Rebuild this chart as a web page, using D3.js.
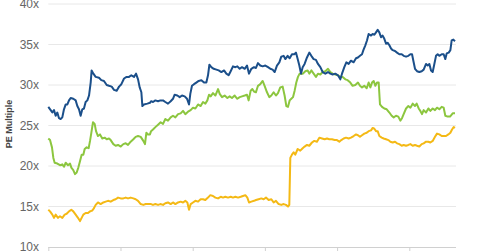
<!DOCTYPE html>
<html><head><meta charset="utf-8">
<script src="https://cdn.jsdelivr.net/npm/d3@7"></script>
<style>
html,body{margin:0;padding:0;background:#fff;}
svg{display:block;font-family:"Liberation Sans",Arial,sans-serif;}
</style></head>
<body><svg id="chart" width="480" height="251"></svg>
<script>
// x values: years since the start of the series
const yTicks = [10, 15, 20, 25, 30, 35, 40];
const xTicks = [0, 1, 2, 3, 4, 5];
const yLabel = "PE Multiple";

const blueSeries = [[0.000,27.3],[0.033,26.9],[0.056,26.6],[0.079,26.9],[0.102,26.2],[0.125,26.6],[0.148,25.9],[0.171,25.8],[0.194,26.0],[0.217,27.0],[0.241,27.6],[0.264,27.6],[0.287,28.1],[0.310,28.4],[0.346,28.3],[0.379,28.1],[0.402,27.4],[0.425,27.0],[0.448,26.2],[0.471,27.0],[0.494,27.1],[0.517,27.9],[0.541,28.1],[0.564,28.7],[0.587,30.3],[0.600,31.8],[0.624,31.4],[0.656,31.0],[0.702,30.9],[0.734,30.6],[0.771,30.5],[0.809,30.0],[0.841,29.9],[0.878,29.8],[0.910,29.4],[0.947,29.3],[0.980,29.8],[1.012,30.1],[1.049,30.8],[1.085,31.0],[1.118,31.0],[1.150,31.2],[1.187,31.0],[1.215,31.4],[1.243,30.7],[1.266,29.7],[1.289,29.1],[1.303,27.4],[1.325,27.6],[1.372,27.7],[1.408,27.8],
[1.423,28.0],[1.450,27.9],[1.483,28.1],[1.520,28.0],[1.552,28.1],[1.589,28.1],[1.621,27.9],[1.658,27.7],[1.695,28.0],[1.727,28.3],[1.750,28.8],[1.787,28.7],[1.820,28.5],[1.852,28.7],[1.889,28.6],[1.921,28.3],[1.949,27.6],[1.967,28.9],[1.990,29.9],[2.018,30.1],[2.050,30.3],[2.083,30.5],[2.120,30.6],[2.157,30.3],[2.189,30.3],[2.212,31.2],[2.231,32.5],[2.258,32.2],[2.291,32.0],[2.328,31.9],[2.360,31.8],[2.397,31.6],[2.434,31.8],[2.466,31.4],[2.498,31.2],[2.526,31.7],[2.558,32.3],[2.591,32.2],[2.618,32.3],[2.651,32.0],[2.683,32.2],[2.720,32.0],[2.752,32.4],[2.780,31.4],[2.812,32.0],[2.849,32.2],
[2.876,32.1],[2.904,32.7],[2.936,32.4],[2.969,32.3],[3.006,32.4],[3.043,32.2],[3.075,32.0],[3.107,31.9],[3.135,31.6],[3.167,32.4],[3.200,32.8],[3.227,33.5],[3.260,33.6],[3.283,33.2],[3.315,33.6],[3.343,33.3],[3.375,33.8],[3.407,33.8],[3.430,34.0],[3.454,33.2],[3.477,32.4],[3.500,31.4],[3.523,32.2],[3.550,32.6],[3.583,33.4],[3.615,34.0],[3.643,33.6],[3.675,33.2],[3.707,33.1],[3.735,32.6],[3.768,32.2],[3.800,31.6],[3.837,31.4],[3.874,31.6],[3.906,31.4],[3.938,31.3],[3.975,31.4],[4.012,31.2],[4.045,30.7],[4.068,31.4],[4.100,32.2],[4.128,32.8],[4.160,32.6],[4.192,33.0],[4.229,32.8],[4.262,33.3],[4.289,33.4],
[4.317,33.6],[4.345,33.8],[4.364,34.3],[4.391,34.9],[4.414,35.5],[4.437,36.3],[4.470,36.1],[4.493,36.3],[4.516,36.2],[4.539,36.5],[4.562,36.8],[4.585,36.5],[4.608,35.9],[4.631,36.1],[4.654,35.7],[4.678,35.1],[4.701,35.2],[4.724,34.9],[4.747,34.5],[4.770,34.3],[4.802,34.2],[4.830,34.0],[4.862,33.8],[4.895,33.8],[4.922,33.6],[4.955,33.5],[4.987,33.6],[5.015,33.8],[5.038,33.8],[5.056,33.0],[5.079,32.0],[5.107,31.7],[5.139,31.6],[5.172,31.7],[5.199,31.9],[5.232,32.6],[5.255,32.4],[5.278,32.6],[5.301,31.8],[5.324,31.6],[5.347,32.6],[5.370,33.6],[5.393,33.8],[5.416,33.6],[5.449,33.8],[5.476,33.8],[5.499,33.2],[5.518,33.9],[5.546,34.0],[5.569,34.3],[5.587,35.5],[5.610,35.6],[5.633,35.4]];

const greenSeries = [[0.000,23.4],[0.024,23.2],[0.051,22.3],[0.070,21.0],[0.088,20.4],[0.125,20.3],[0.162,20.1],[0.194,20.2],[0.217,19.9],[0.241,20.4],[0.273,20.1],[0.301,20.3],[0.319,19.8],[0.346,19.5],[0.370,19.0],[0.393,19.2],[0.416,19.8],[0.439,20.6],[0.462,21.4],[0.485,21.4],[0.504,22.1],[0.531,22.3],[0.559,22.2],[0.578,23.1],[0.596,24.1],[0.619,25.4],[0.642,25.2],[0.661,24.3],[0.688,23.7],[0.716,23.9],[0.748,23.4],[0.781,23.5],[0.809,23.3],[0.841,23.4],[0.864,23.2],[0.901,22.7],[0.933,22.5],[0.966,22.6],[1.003,22.4],[1.039,22.7],[1.072,22.8],[1.104,22.6],[1.141,23.0],[1.178,23.3],[1.210,23.6],[1.243,23.7],[1.280,23.6],[1.316,23.1],[1.339,22.7],[1.358,24.1],[1.381,23.9],[1.408,23.9],
[1.423,24.3],[1.450,24.5],[1.483,24.8],[1.520,25.1],[1.556,25.4],[1.589,25.2],[1.621,25.8],[1.658,25.6],[1.695,26.0],[1.727,26.2],[1.760,26.0],[1.797,26.4],[1.833,26.5],[1.866,26.8],[1.898,26.4],[1.935,26.7],[1.972,26.9],[2.004,27.2],[2.037,27.1],[2.074,27.6],[2.110,27.4],[2.143,27.9],[2.175,27.7],[2.203,28.1],[2.226,28.8],[2.249,28.6],[2.281,29.0],[2.314,28.7],[2.351,29.5],[2.374,28.9],[2.406,28.5],[2.443,28.7],[2.480,28.4],[2.512,28.6],[2.544,28.4],[2.581,28.7],[2.618,28.3],[2.651,28.5],[2.683,28.6],[2.720,28.7],[2.752,28.8],[2.775,28.1],[2.803,29.3],[2.826,29.5],[2.849,29.2],
[2.876,29.1],[2.904,29.9],[2.936,30.1],[2.969,30.5],[2.996,29.9],[3.029,29.1],[3.061,28.5],[3.089,28.7],[3.121,29.1],[3.153,28.7],[3.181,29.0],[3.213,29.7],[3.246,29.8],[3.273,28.7],[3.297,27.4],[3.320,27.3],[3.343,28.1],[3.366,28.3],[3.389,28.5],[3.412,29.3],[3.435,30.3],[3.458,31.0],[3.481,31.4],[3.504,31.4],[3.527,31.4],[3.560,31.7],[3.592,31.8],[3.615,31.4],[3.643,31.8],[3.675,31.4],[3.707,31.0],[3.735,31.4],[3.768,31.3],[3.800,31.6],[3.837,31.7],[3.874,32.0],[3.906,31.6],[3.938,31.4],[3.975,31.3],[4.012,31.2],[4.045,31.0],[4.077,31.0],[4.114,30.7],[4.146,30.6],[4.183,30.3],[4.215,29.9],[4.252,30.0],[4.289,30.3],
[4.317,29.9],[4.345,29.7],[4.377,29.9],[4.410,29.6],[4.437,30.3],[4.461,29.7],[4.484,30.3],[4.507,30.5],[4.530,29.9],[4.553,30.3],[4.576,30.3],[4.594,27.6],[4.622,27.3],[4.654,27.1],[4.687,27.0],[4.724,26.6],[4.756,26.2],[4.784,26.0],[4.816,26.2],[4.848,26.1],[4.876,25.6],[4.899,25.9],[4.922,26.4],[4.955,27.1],[4.987,27.4],[5.015,27.2],[5.047,27.7],[5.079,27.4],[5.102,27.7],[5.130,27.1],[5.153,26.8],[5.176,26.4],[5.199,26.9],[5.232,26.6],[5.264,27.1],[5.292,26.8],[5.324,27.1],[5.356,26.9],[5.384,27.2],[5.416,27.0],[5.449,27.3],[5.476,27.2],[5.499,26.2],[5.532,26.1],[5.564,26.1],[5.601,26.5],[5.633,26.5]];

const yellowSeries = [[0.000,14.6],[0.024,14.4],[0.056,14.0],[0.079,13.6],[0.102,14.0],[0.134,13.6],[0.162,13.8],[0.194,13.6],[0.227,14.0],[0.254,14.1],[0.287,14.4],[0.319,14.6],[0.346,14.4],[0.379,14.0],[0.411,13.6],[0.439,13.2],[0.462,13.6],[0.485,14.0],[0.517,14.2],[0.550,14.2],[0.578,14.4],[0.610,14.5],[0.633,14.8],[0.656,15.2],[0.688,15.5],[0.725,15.3],[0.762,15.5],[0.795,15.6],[0.827,15.7],[0.864,15.6],[0.901,15.8],[0.933,15.9],[0.966,16.1],[1.003,16.0],[1.039,16.0],[1.072,16.1],[1.104,16.0],[1.141,16.1],[1.178,16.0],[1.210,15.9],[1.243,15.7],[1.280,15.3],[1.316,15.2],[1.349,15.3],[1.381,15.3],[1.408,15.3],
[1.423,15.3],[1.450,15.2],[1.483,15.3],[1.520,15.2],[1.552,15.3],[1.589,15.2],[1.621,15.4],[1.658,15.5],[1.695,15.3],[1.727,15.5],[1.760,15.3],[1.797,15.5],[1.833,15.6],[1.866,15.5],[1.898,15.7],[1.926,15.5],[1.949,14.6],[1.972,15.3],[2.004,15.5],[2.037,15.7],[2.074,15.6],[2.110,15.9],[2.143,15.9],[2.175,15.8],[2.212,16.1],[2.244,16.4],[2.281,16.3],[2.314,16.1],[2.351,16.0],[2.388,16.2],[2.420,16.1],[2.452,16.2],[2.489,16.1],[2.526,16.2],[2.558,16.1],[2.591,16.2],[2.628,16.1],[2.665,16.2],[2.697,16.3],[2.729,16.4],[2.757,16.1],[2.780,15.5],[2.812,15.6],[2.849,15.7],
[2.876,15.8],[2.913,15.9],[2.950,16.0],[2.983,15.9],[3.015,16.1],[3.052,15.8],[3.089,15.9],[3.121,15.5],[3.153,15.7],[3.190,15.3],[3.227,15.2],[3.260,15.3],[3.292,15.2],[3.320,15.0],[3.338,15.2],[3.352,21.0],[3.375,21.4],[3.398,21.7],[3.421,21.4],[3.454,22.1],[3.490,21.9],[3.523,22.2],[3.550,22.4],[3.583,22.6],[3.615,22.5],[3.652,22.9],[3.684,23.1],[3.721,23.0],[3.754,23.5],[3.791,23.4],[3.828,23.3],[3.860,23.4],[3.892,23.3],[3.929,23.3],[3.966,23.2],[3.998,23.2],[4.031,23.0],[4.058,23.2],[4.091,23.4],[4.123,23.5],[4.160,23.4],[4.192,23.5],[4.229,23.7],[4.262,23.9],[4.289,23.8],
[4.317,23.6],[4.345,23.8],[4.377,24.0],[4.410,24.1],[4.437,24.3],[4.470,24.4],[4.493,24.7],[4.516,24.6],[4.539,24.3],[4.562,24.3],[4.585,23.7],[4.618,23.5],[4.645,23.4],[4.678,23.3],[4.710,23.2],[4.738,23.0],[4.770,22.9],[4.802,23.0],[4.830,22.8],[4.862,22.7],[4.895,22.5],[4.922,22.6],[4.955,22.5],[4.987,22.6],[5.015,22.7],[5.047,22.5],[5.079,22.6],[5.107,22.5],[5.139,22.4],[5.172,22.7],[5.199,22.8],[5.232,23.0],[5.264,23.0],[5.292,22.9],[5.324,23.1],[5.356,23.6],[5.384,24.0],[5.416,23.9],[5.449,23.7],[5.476,23.7],[5.508,23.7],[5.541,23.9],[5.569,24.1],[5.592,24.5],[5.615,24.8],[5.633,24.7]];

const seriesColors = {yellow: "#f4b915", green: "#8cc63f", blue: "#1b4f8a"};

(function () {
  const series = [
    {name: "yellow", data: yellowSeries},
    {name: "green", data: greenSeries},
    {name: "blue", data: blueSeries}
  ];
  const svg = d3.select("#chart");
  const mLeft = 48.3, mRight = 455, mTop = 4, mBottom = 247;
  const x = d3.scaleLinear().domain([0, 5.633]).range([mLeft, mRight]);
  const y = d3.scaleLinear().domain([10, 40]).range([mBottom, mTop]);

  svg.append("g").selectAll("line").data(yTicks.filter(d => d > 10)).join("line")
    .attr("x1", mLeft).attr("x2", 456)
    .attr("y1", d => y(d)).attr("y2", d => y(d))
    .attr("stroke", "#e8e8e8").attr("stroke-width", 1);

  const yAxis = d3.axisLeft(y).tickValues(yTicks).tickFormat(d => d + "x").tickSize(0).tickPadding(0);
  const gy = svg.append("g").attr("transform", "translate(39,0)").call(yAxis);
  gy.select(".domain").remove();
  gy.selectAll("text").attr("fill", "#666").attr("font-size", 12)
    .attr("font-family", "Liberation Sans, Arial, sans-serif");

  const xAxis = d3.axisBottom(x).tickValues(xTicks).tickFormat("").tickSize(5).tickSizeOuter(0);
  const gx = svg.append("g").attr("transform", `translate(0,${mBottom})`).call(xAxis);
  gx.select(".domain").attr("stroke", "#d0d0d0").attr("d", `M${mLeft},0.5H456`);
  gx.selectAll(".tick line").attr("stroke", "#d0d0d0");

  svg.append("text")
    .attr("transform", "translate(11.5,124) rotate(-90)")
    .attr("text-anchor", "middle")
    .attr("font-size", 9).attr("font-weight", "bold").attr("fill", "#444")
    .text(yLabel);

  const line = d3.line().x(d => x(d[0])).y(d => y(d[1]));
  svg.append("g").selectAll("path").data(series).join("path")
    .attr("d", d => line(d.data))
    .attr("fill", "none")
    .attr("stroke", d => seriesColors[d.name])
    .attr("stroke-width", 2)
    .attr("stroke-linejoin", "round");
})();
</script></body></html>
